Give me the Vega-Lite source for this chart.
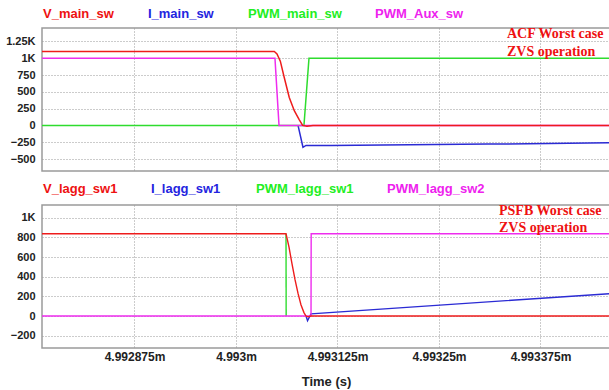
{
  "$schema": "https://vega.github.io/schema/vega-lite/v6.json",
  "padding": {"left": 0, "top": 6, "right": 0, "bottom": 0},
  "background": "white",
  "spacing": 10,
  "config": {
    "view": {"stroke": "#9a9a9a", "strokeWidth": 1.5},
    "font": "Liberation Sans",
    "axis": {"labelFont": "Liberation Sans", "labelFontWeight": "bold", "labelColor": "#222222", "labelOverlap": false, "ticks": false, "domain": false, "grid": true, "gridColor": "#999999", "gridDash": [1, 2], "gridWidth": 1, "gridOpacity": 1},
    "axisY": {"labelExpr": "datum.value >= 1000 ? format(datum.value / 1000, '~g') + 'K' : format(datum.value, 'd')", "labelPadding": 7, "labelFontSize": 11, "minExtent": 41, "maxExtent": 41},
    "axisX": {"labelExpr": "format(datum.value, '.6~f') + 'm'", "labelFontSize": 12, "labelPadding": 3, "titleFont": "Liberation Sans", "titleFontSize": 13, "titleFontWeight": "bold", "titleColor": "#222222", "titlePadding": 13},
    "text": {"font": "Liberation Sans", "fontWeight": "bold", "fontSize": 13, "align": "left", "baseline": "middle"}
  },
  "datasets": {
    "top": [
      {"t": 4.9930764, "v": 0, "s": "I_main_sw"},
      {"t": 4.9930825, "v": -325, "s": "I_main_sw"},
      {"t": 4.9930862, "v": -298, "s": "I_main_sw"},
      {"t": 4.9931170, "v": -300, "s": "I_main_sw"},
      {"t": 4.9933103, "v": -278, "s": "I_main_sw"},
      {"t": 4.9934606, "v": -258, "s": "I_main_sw"},
      {"t": 4.9927611, "v": 0, "s": "PWM_main_sw"},
      {"t": 4.9930837, "v": 0, "s": "PWM_main_sw"},
      {"t": 4.9930899, "v": 1000, "s": "PWM_main_sw"},
      {"t": 4.9934606, "v": 1000, "s": "PWM_main_sw"},
      {"t": 4.9927611, "v": 1000, "s": "PWM_Aux_sw"},
      {"t": 4.9930480, "v": 1000, "s": "PWM_Aux_sw"},
      {"t": 4.9930530, "v": 0, "s": "PWM_Aux_sw"},
      {"t": 4.9934606, "v": 0, "s": "PWM_Aux_sw"},
      {"t": 4.9927611, "v": 1100, "s": "V_main_sw"},
      {"t": 4.9930472, "v": 1100, "s": "V_main_sw"},
      {"t": 4.9930505, "v": 1065, "s": "V_main_sw"},
      {"t": 4.9930546, "v": 956, "s": "V_main_sw"},
      {"t": 4.9930595, "v": 710, "s": "V_main_sw"},
      {"t": 4.9930656, "v": 416, "s": "V_main_sw"},
      {"t": 4.9930718, "v": 220, "s": "V_main_sw"},
      {"t": 4.9930780, "v": 84, "s": "V_main_sw"},
      {"t": 4.9930821, "v": 0, "s": "V_main_sw"},
      {"t": 4.9930874, "v": -12, "s": "V_main_sw"},
      {"t": 4.9930948, "v": 0, "s": "V_main_sw"},
      {"t": 4.9934606, "v": 0, "s": "V_main_sw"}
    ],
    "bot": [
      {"t": 4.9930862, "v": 0, "s": "I_lagg_sw1"},
      {"t": 4.9930881, "v": -47, "s": "I_lagg_sw1"},
      {"t": 4.9930924, "v": 22, "s": "I_lagg_sw1"},
      {"t": 4.9934606, "v": 228, "s": "I_lagg_sw1"},
      {"t": 4.9930616, "v": 836, "s": "PWM_lagg_sw1"},
      {"t": 4.9930618, "v": 0, "s": "PWM_lagg_sw1"},
      {"t": 4.9927611, "v": 0, "s": "PWM_lagg_sw2"},
      {"t": 4.9930924, "v": 0, "s": "PWM_lagg_sw2"},
      {"t": 4.9930926, "v": 836, "s": "PWM_lagg_sw2"},
      {"t": 4.9934606, "v": 836, "s": "PWM_lagg_sw2"},
      {"t": 4.9927611, "v": 836, "s": "V_lagg_sw1"},
      {"t": 4.9930616, "v": 836, "s": "V_lagg_sw1"},
      {"t": 4.9930653, "v": 700, "s": "V_lagg_sw1"},
      {"t": 4.9930690, "v": 530, "s": "V_lagg_sw1"},
      {"t": 4.9930727, "v": 370, "s": "V_lagg_sw1"},
      {"t": 4.9930764, "v": 230, "s": "V_lagg_sw1"},
      {"t": 4.9930800, "v": 115, "s": "V_lagg_sw1"},
      {"t": 4.9930837, "v": 35, "s": "V_lagg_sw1"},
      {"t": 4.9930862, "v": 0, "s": "V_lagg_sw1"},
      {"t": 4.9930887, "v": -8, "s": "V_lagg_sw1"},
      {"t": 4.9930924, "v": 0, "s": "V_lagg_sw1"},
      {"t": 4.9934606, "v": 0, "s": "V_lagg_sw1"}
    ]
  },
  "resolve": {"scale": {"color": "independent", "y": "independent"}, "legend": {"color": "independent"}},
  "vconcat": [
    {
      "width": 568,
      "height": 143,
      "layer": [
        {
          "data": {"name": "top"},
          "encoding": {
            "x": {"field": "t", "type": "quantitative",
              "scale": {"domain": [4.9927611, 4.9934606], "nice": false, "zero": false},
              "axis": {"values": [4.992875, 4.993, 4.993125, 4.99325, 4.993375], "labels": false, "title": null, "grid": true}},
            "y": {"field": "v", "type": "quantitative",
              "scale": {"domain": [-678, 1450], "nice": false, "zero": false},
              "axis": {"values": [-500, -250, 0, 250, 500, 750, 1000, 1250], "title": null, "grid": true}},
            "color": {"field": "s", "type": "nominal",
              "scale": {"domain": ["V_main_sw", "I_main_sw", "PWM_main_sw", "PWM_Aux_sw"], "range": ["#ee1c1c", "#2b2bd4", "#2edc2e", "#ee2cee"]},
              "legend": null}
          },
          "layer": [
            {"transform": [{"filter": "datum.s == 'I_main_sw'"}], "mark": {"type": "line", "strokeWidth": 1.5, "clip": true}},
            {"transform": [{"filter": "datum.s == 'PWM_main_sw'"}], "mark": {"type": "line", "strokeWidth": 1.5, "clip": true}},
            {"transform": [{"filter": "datum.s == 'PWM_Aux_sw'"}], "mark": {"type": "line", "strokeWidth": 1.5, "clip": true}},
            {"transform": [{"filter": "datum.s == 'V_main_sw'"}], "mark": {"type": "line", "strokeWidth": 1.5, "clip": true}}
          ]
        },
        {
          "data": {"values": [{}]},
          "mark": {"type": "text", "text": "ACF Worst case\nZVS operation", "lineBreak": "\n", "lineHeight": 18, "font": "Liberation Serif", "fontWeight": "bold", "fontSize": 14, "color": "#ee1111", "align": "left", "baseline": "alphabetic"},
          "encoding": {
            "x": {"datum": 4.99333374, "type": "quantitative", "axis": {"values": [4.992875, 4.993, 4.993125, 4.99325, 4.993375], "labels": false, "title": null, "grid": true}},
            "y": {"datum": 1295, "type": "quantitative", "axis": {"values": [-500, -250, 0, 250, 500, 750, 1000, 1250], "title": null, "grid": true}}
          }
        },
        {
          "data": {"values": [{}]},
          "mark": {"type": "text", "text": "V_main_sw", "color": "#ee1111"},
          "encoding": {
            "x": {"datum": 4.9927623, "type": "quantitative", "axis": {"values": [4.992875, 4.993, 4.993125, 4.99325, 4.993375], "labels": false, "title": null, "grid": true}},
            "y": {"datum": 1665, "type": "quantitative", "axis": {"values": [-500, -250, 0, 250, 500, 750, 1000, 1250], "title": null, "grid": true}}
          }
        },
        {
          "data": {"values": [{}]},
          "mark": {"type": "text", "text": "I_main_sw", "color": "#2424e0"},
          "encoding": {
            "x": {"datum": 4.9928916, "type": "quantitative", "axis": {"values": [4.992875, 4.993, 4.993125, 4.99325, 4.993375], "labels": false, "title": null, "grid": true}},
            "y": {"datum": 1665, "type": "quantitative", "axis": {"values": [-500, -250, 0, 250, 500, 750, 1000, 1250], "title": null, "grid": true}}
          }
        },
        {
          "data": {"values": [{}]},
          "mark": {"type": "text", "text": "PWM_main_sw", "color": "#22ee22"},
          "encoding": {
            "x": {"datum": 4.9930148, "type": "quantitative", "axis": {"values": [4.992875, 4.993, 4.993125, 4.99325, 4.993375], "labels": false, "title": null, "grid": true}},
            "y": {"datum": 1665, "type": "quantitative", "axis": {"values": [-500, -250, 0, 250, 500, 750, 1000, 1250], "title": null, "grid": true}}
          }
        },
        {
          "data": {"values": [{}]},
          "mark": {"type": "text", "text": "PWM_Aux_sw", "color": "#ee22ee"},
          "encoding": {
            "x": {"datum": 4.9931712, "type": "quantitative", "axis": {"values": [4.992875, 4.993, 4.993125, 4.99325, 4.993375], "labels": false, "title": null, "grid": true}},
            "y": {"datum": 1665, "type": "quantitative", "axis": {"values": [-500, -250, 0, 250, 500, 750, 1000, 1250], "title": null, "grid": true}}
          }
        }
      ]
    },
    {
      "width": 568,
      "height": 143,
      "layer": [
        {
          "data": {"name": "bot"},
          "encoding": {
            "x": {"field": "t", "type": "quantitative",
              "scale": {"domain": [4.9927611, 4.9934606], "nice": false, "zero": false},
              "axis": {"values": [4.992875, 4.993, 4.993125, 4.99325, 4.993375], "title": "Time (s)", "grid": true}},
            "y": {"field": "v", "type": "quantitative",
              "scale": {"domain": [-325, 1129], "nice": false, "zero": false},
              "axis": {"values": [-200, 0, 200, 400, 600, 800, 1000], "title": null, "grid": true}},
            "color": {"field": "s", "type": "nominal",
              "scale": {"domain": ["V_lagg_sw1", "I_lagg_sw1", "PWM_lagg_sw1", "PWM_lagg_sw2"], "range": ["#ee1c1c", "#2b2bd4", "#2edc2e", "#ee2cee"]},
              "legend": null}
          },
          "layer": [
            {"transform": [{"filter": "datum.s == 'I_lagg_sw1'"}], "mark": {"type": "line", "strokeWidth": 1.4, "clip": true}},
            {"transform": [{"filter": "datum.s == 'PWM_lagg_sw1'"}], "mark": {"type": "line", "strokeWidth": 1.4, "clip": true}},
            {"transform": [{"filter": "datum.s == 'PWM_lagg_sw2'"}], "mark": {"type": "line", "strokeWidth": 1.4, "clip": true}},
            {"transform": [{"filter": "datum.s == 'V_lagg_sw1'"}], "mark": {"type": "line", "strokeWidth": 1.4, "clip": true}}
          ]
        },
        {
          "data": {"values": [{}]},
          "mark": {"type": "text", "text": "PSFB Worst case\nZVS operation", "lineBreak": "\n", "lineHeight": 17, "font": "Liberation Serif", "fontWeight": "bold", "fontSize": 14, "color": "#ee1111", "align": "left", "baseline": "alphabetic"},
          "encoding": {
            "x": {"datum": 4.9933239, "type": "quantitative", "axis": {"values": [4.992875, 4.993, 4.993125, 4.99325, 4.993375], "title": "Time (s)", "grid": true}},
            "y": {"datum": 1027, "type": "quantitative", "axis": {"values": [-200, 0, 200, 400, 600, 800, 1000], "title": null, "grid": true}}
          }
        },
        {
          "data": {"values": [{}]},
          "mark": {"type": "text", "text": "V_lagg_sw1", "color": "#ee1111"},
          "encoding": {
            "x": {"datum": 4.9927623, "type": "quantitative", "axis": {"values": [4.992875, 4.993, 4.993125, 4.99325, 4.993375], "title": "Time (s)", "grid": true}},
            "y": {"datum": 1292, "type": "quantitative", "axis": {"values": [-200, 0, 200, 400, 600, 800, 1000], "title": null, "grid": true}}
          }
        },
        {
          "data": {"values": [{}]},
          "mark": {"type": "text", "text": "I_lagg_sw1", "color": "#2424e0"},
          "encoding": {
            "x": {"datum": 4.9928953, "type": "quantitative", "axis": {"values": [4.992875, 4.993, 4.993125, 4.99325, 4.993375], "title": "Time (s)", "grid": true}},
            "y": {"datum": 1292, "type": "quantitative", "axis": {"values": [-200, 0, 200, 400, 600, 800, 1000], "title": null, "grid": true}}
          }
        },
        {
          "data": {"values": [{}]},
          "mark": {"type": "text", "text": "PWM_lagg_sw1", "color": "#22ee22"},
          "encoding": {
            "x": {"datum": 4.9930246, "type": "quantitative", "axis": {"values": [4.992875, 4.993, 4.993125, 4.99325, 4.993375], "title": "Time (s)", "grid": true}},
            "y": {"datum": 1292, "type": "quantitative", "axis": {"values": [-200, 0, 200, 400, 600, 800, 1000], "title": null, "grid": true}}
          }
        },
        {
          "data": {"values": [{}]},
          "mark": {"type": "text", "text": "PWM_lagg_sw2", "color": "#ee22ee"},
          "encoding": {
            "x": {"datum": 4.9931860, "type": "quantitative", "axis": {"values": [4.992875, 4.993, 4.993125, 4.99325, 4.993375], "title": "Time (s)", "grid": true}},
            "y": {"datum": 1292, "type": "quantitative", "axis": {"values": [-200, 0, 200, 400, 600, 800, 1000], "title": null, "grid": true}}
          }
        }
      ]
    }
  ]
}
